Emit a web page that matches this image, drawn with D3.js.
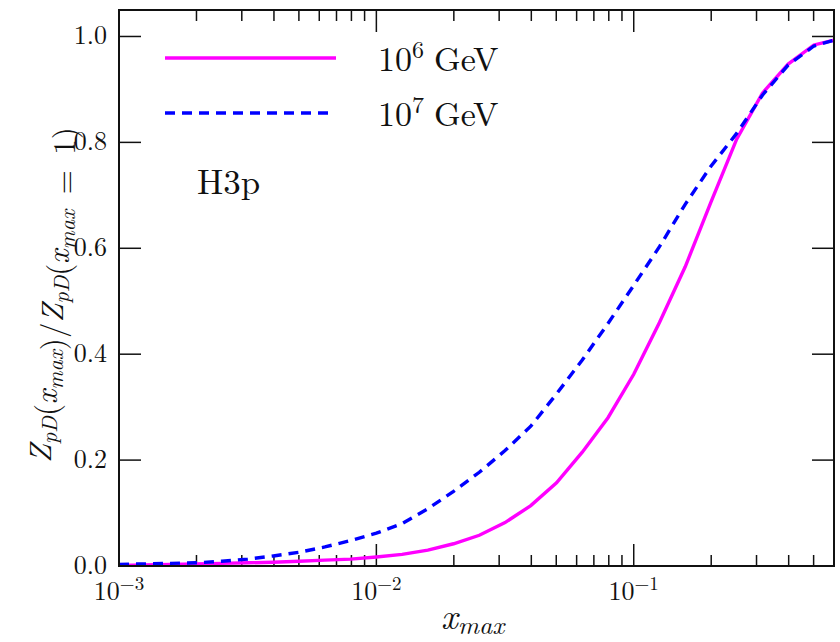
<!DOCTYPE html>
<html lang="en">
<head>
    <meta charset="UTF-8">
    <title>Z_pD ratio</title>
    <script src="https://cdn.jsdelivr.net/npm/d3@7"></script>
    <style>
        body { margin: 0; background: white; }
        svg { display: block; }
    </style>
</head>
<body>
    <svg></svg>
    <script>
        // log10(x_max) sample points, 0.1 decade steps up to 0.6
        var logX = [-3.0, -2.9, -2.8, -2.7, -2.6, -2.5, -2.4, -2.3, -2.2, -2.1,
                    -2.0, -1.9, -1.8, -1.7, -1.6, -1.5, -1.4, -1.3, -1.2, -1.1,
                    -1.0, -0.9, -0.8, -0.7, -0.6, -0.5, -0.4, -0.3, -0.2218];
        // 10^6 GeV (solid magenta)
        var z6 = [0.001, 0.002, 0.003, 0.004, 0.005, 0.006, 0.007, 0.009, 0.011, 0.013,
                  0.017, 0.022, 0.030, 0.042, 0.058, 0.082, 0.114, 0.157, 0.215, 0.280,
                  0.362, 0.460, 0.565, 0.687, 0.806, 0.893, 0.948, 0.984, 0.993];
        // 10^7 GeV (dashed blue)
        var z7 = [0.003, 0.004, 0.005, 0.006, 0.009, 0.013, 0.019, 0.026, 0.036, 0.048,
                  0.062, 0.080, 0.108, 0.141, 0.177, 0.218, 0.264, 0.325, 0.389, 0.458,
                  0.530, 0.603, 0.683, 0.755, 0.817, 0.889, 0.946, 0.982, 0.993];

        var seriesNames = ["10^6 GeV", "10^7 GeV"];
        var xMajor = [1e-3, 1e-2, 1e-1];
        var xMajorExp = ["\u22123", "\u22122", "\u22121"];
        var yTicks = [0.0, 0.2, 0.4, 0.6, 0.8, 1.0];

        var width = 840, height = 642;
        var margin = {top: 10, right: 6, bottom: 76, left: 119};
        var svg = d3.select("svg").attr("width", width).attr("height", height)
            .style("font-family", "'Latin Modern Roman', 'Liberation Serif', serif")
            .style("fill", "#111");

        var x = d3.scaleLog().domain([1e-3, 0.6]).range([margin.left, width - margin.right]);
        var y = d3.scaleLinear().domain([0, 1.05]).range([height - margin.bottom, margin.top]);

        var x0 = x.range()[0], x1 = x.range()[1];
        var y0 = y.range()[0], y1 = y.range()[1];

        // minor x ticks: 2..9 in each decade
        var xMinor = [];
        [1e-3, 1e-2, 1e-1].forEach(function(d) {
            for (var m = 2; m <= 9; m++) {
                var v = m * d;
                if (v < 0.6) xMinor.push(v);
            }
        });

        var major = 22, minor = 11;
        var ticks = svg.append("g").attr("stroke", "#111").attr("stroke-width", 1.5);

        // bottom + top
        xMajor.forEach(function(v) {
            ticks.append("line").attr("x1", x(v)).attr("x2", x(v)).attr("y1", y0).attr("y2", y0 - major);
            ticks.append("line").attr("x1", x(v)).attr("x2", x(v)).attr("y1", y1).attr("y2", y1 + major);
        });
        xMinor.forEach(function(v) {
            ticks.append("line").attr("x1", x(v)).attr("x2", x(v)).attr("y1", y0).attr("y2", y0 - minor);
            ticks.append("line").attr("x1", x(v)).attr("x2", x(v)).attr("y1", y1).attr("y2", y1 + minor);
        });
        // left + right
        yTicks.forEach(function(v) {
            ticks.append("line").attr("x1", x0).attr("x2", x0 + major).attr("y1", y(v)).attr("y2", y(v));
            ticks.append("line").attr("x1", x1).attr("x2", x1 - major).attr("y1", y(v)).attr("y2", y(v));
        });

        // curves
        var line = d3.line()
            .x(function(d) { return x(Math.pow(10, d[0])); })
            .y(function(d) { return y(d[1]); });

        svg.append("clipPath").attr("id", "clip")
            .append("rect").attr("x", x0).attr("y", y1).attr("width", x1 - x0).attr("height", y0 - y1);

        var plot = svg.append("g").attr("clip-path", "url(#clip)");
        plot.append("path")
            .datum(d3.zip(logX, z6))
            .attr("d", line)
            .style("fill", "none")
            .attr("stroke", "#ff00ff")
            .attr("stroke-width", 3.4);
        plot.append("path")
            .datum(d3.zip(logX, z7))
            .attr("d", line)
            .style("fill", "none")
            .attr("stroke", "#0000ff")
            .attr("stroke-width", 3.4)
            .attr("stroke-dasharray", "10,7");

        // frame
        svg.append("rect")
            .attr("x", x0).attr("y", y1)
            .attr("width", x1 - x0).attr("height", y0 - y1)
            .style("fill", "none").attr("stroke", "#111").attr("stroke-width", 2);

        // y tick labels
        svg.append("g").selectAll("text")
            .data(yTicks).enter().append("text")
            .attr("x", x0 - 12)
            .attr("y", function(d) { return y(d) + 8; })
            .attr("text-anchor", "end")
            .style("font-size", "26px")
            .text(function(d) { return d.toFixed(1); });

        // x tick labels 10^k
        xMajor.forEach(function(v, i) {
            var t = svg.append("text")
                .attr("x", x(v))
                .attr("y", y0 + 34)
                .attr("text-anchor", "middle")
                .style("font-size", "26px");
            t.append("tspan").text("10");
            t.append("tspan").attr("dy", -10).style("font-size", "19px").text(xMajorExp[i]);
        });

        // legend
        var leg = svg.append("g");
        [["#ff00ff", null, 58], ["#0000ff", "10,7", 113]].forEach(function(s, i) {
            leg.append("line")
                .attr("x1", 165).attr("x2", i === 0 ? 336 : 331)
                .attr("y1", s[2]).attr("y2", s[2])
                .attr("stroke", s[0]).attr("stroke-width", 3.4)
                .attr("stroke-dasharray", s[1]);
            var parts = seriesNames[i].split(" ")[0].split("^");
            var t = leg.append("text")
                .attr("x", 378).attr("y", s[2] + 13)
                .style("font-size", "34px");
            t.append("tspan").text(parts[0]);
            t.append("tspan").attr("dy", -13).style("font-size", "24px").text(parts[1]);
            t.append("tspan").attr("dy", 13).attr("dx", 10).text("GeV");
        });

        svg.append("text")
            .attr("x", 197).attr("y", 194)
            .style("font-size", "35px")
            .text("H3p");

        // x axis label
        var xl = svg.append("text")
            .attr("x", 441).attr("y", 629)
            .style("font-size", "36px")
            .style("font-style", "italic");
        xl.append("tspan").text("x");
        xl.append("tspan").attr("dy", 5).style("font-size", "26px").text("max");

        // y axis label
        var yl = svg.append("text")
            .attr("transform", "translate(51," + 295 + ") rotate(-90)")
            .attr("text-anchor", "middle")
            .style("font-size", "31px")
            .style("font-style", "italic");
        function sub(str) {
            yl.append("tspan").attr("dy", 6).style("font-size", "22px").text(str);
            yl.append("tspan").attr("dy", -6).text("");
        }
        yl.append("tspan").text("Z");
        sub("pD");
        yl.append("tspan").style("font-style", "normal").text("(");
        yl.append("tspan").text("x");
        sub("max");
        yl.append("tspan").style("font-style", "normal").text(")/");
        yl.append("tspan").text("Z");
        sub("pD");
        yl.append("tspan").style("font-style", "normal").text("(");
        yl.append("tspan").text("x");
        sub("max");
        yl.append("tspan").style("font-style", "normal").text("\u00a0=\u00a01)");
    </script>
</body>
</html>
